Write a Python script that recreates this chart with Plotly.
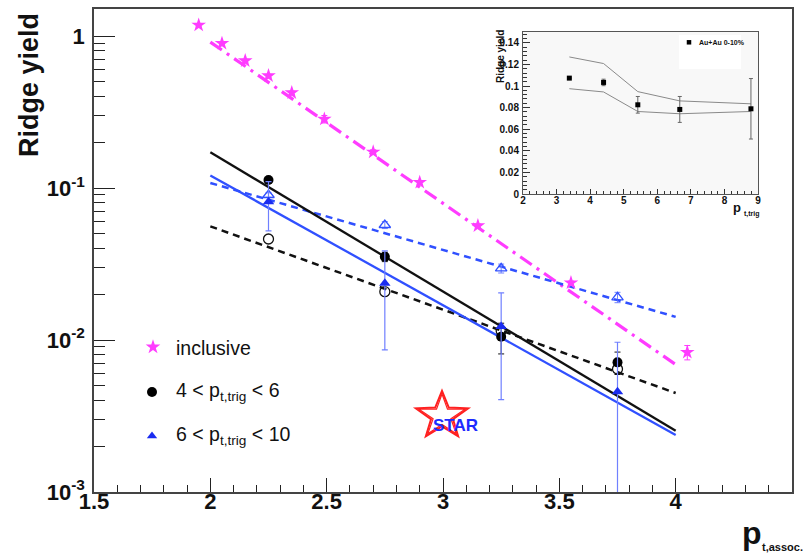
import numpy as np
import plotly.graph_objects as go

W, H = 806, 553

# ---------------- main panel data ----------------
incl_x = [1.95, 2.05, 2.15, 2.25, 2.35, 2.49, 2.70, 2.90, 3.15, 3.55, 4.05]
incl_y = [1.18, 0.895, 0.688, 0.548, 0.424, 0.284, 0.1725, 0.109, 0.0565, 0.0238, 0.0083]
incl_err = [0.03, 0.02, 0.015, 0.012, 0.01, 0.016, 0.006, 0.003, 0.0015, 0.0006, 0.0009]

pt_x = [2.25, 2.75, 3.25, 3.75]
low_filled = [0.113, 0.0353, 0.0105, 0.00713]
low_filled_err = [0.004, 0.0025, 0.0024, 0.0012]
low_open = [0.0462, 0.0208, 0.0115, 0.00645]
high_filled = [0.0813, 0.0236, 0.01225, 0.00457]
high_filled_err = [0.029, 0.015, 0.0082, 0.0051]
high_open = [0.090, 0.0571, 0.0296, 0.0191]
high_open_err = [0.003, 0.003, 0.002, 0.0015]

fit_x = [2.0, 4.0]
fit_incl = [0.913, 0.0069]
fit_low = [0.172, 0.00253]
fit_low_open = [0.056, 0.00448]
fit_high = [0.121, 0.00237]
fit_high_open = [0.108, 0.0142]

x_ticks = [1.5, 2.0, 2.5, 3.0, 3.5, 4.0, 4.5]
x_ticktext = ["1.5", "2", "2.5", "3", "3.5", "4", "4.5"]
y_ticks = [1e-3, 1e-2, 1e-1, 1]
y_ticktext = ["10<sup>-3</sup>", "10<sup>-2</sup>", "10<sup>-1</sup>", "1"]

# ---------------- inset data ----------------
ins_x = [3.38, 4.40, 5.42, 6.67, 8.79]
ins_y = [0.1073, 0.1033, 0.0826, 0.0783, 0.0789]
ins_err = [0.0, 0.003, 0.0077, 0.012, 0.028]
ins_upper = [0.1269, 0.1208, 0.0948, 0.0862, 0.0835]
ins_lower = [0.0975, 0.0945, 0.0764, 0.0743, 0.0764]
ins_xticks = [2, 3, 4, 5, 6, 7, 8, 9]
ins_yticks = [0, 0.02, 0.04, 0.06, 0.08, 0.1, 0.12, 0.14]
ins_yticktext = ["0", "0.02", "0.04", "0.06", "0.08", "0.1", "0.12", "0.14"]

MAG = "#ff3cff"
BLUE = "#3050ff"
BLUE_ERR = "#7080ff"
FONT = "Liberation Sans, Arial, Helvetica, sans-serif"

# frame geometry (pixels)
MX0, MX1, MY0, MY1 = 94, 792, 9, 492
IX0, IX1, IY0, IY1 = 523, 758, 32, 194


def P(x, y):
    return x / W, 1 - y / H


fig = go.Figure()

# ---- fit lines ----
fig.add_trace(go.Scatter(x=fit_x, y=fit_incl, mode="lines",
                         line=dict(color=MAG, width=3.2, dash="14px,6px,3px,6px")))
fig.add_trace(go.Scatter(x=fit_x, y=fit_high_open, mode="lines",
                         line=dict(color=BLUE, width=2.5, dash="7px,5px")))
fig.add_trace(go.Scatter(x=fit_x, y=fit_low_open, mode="lines",
                         line=dict(color="#111", width=2.5, dash="7px,5px")))
fig.add_trace(go.Scatter(x=fit_x, y=fit_low, mode="lines",
                         line=dict(color="#111", width=2.3)))
fig.add_trace(go.Scatter(x=fit_x, y=fit_high, mode="lines",
                         line=dict(color=BLUE, width=2.3)))

# ---- data points ----
fig.add_trace(go.Scatter(x=pt_x, y=low_open, mode="markers",
                         marker=dict(symbol="circle-open", size=10, color="#111", line=dict(width=1.3))))
fig.add_trace(go.Scatter(x=pt_x, y=high_open, mode="markers",
                         marker=dict(symbol="triangle-up-open", size=10, color=BLUE, line=dict(width=1.3)),
                         error_y=dict(type="data", array=high_open_err, color=BLUE_ERR, thickness=1, width=3)))
fig.add_trace(go.Scatter(x=pt_x, y=low_filled, mode="markers",
                         marker=dict(symbol="circle", size=10, color="#000"),
                         error_y=dict(type="data", array=low_filled_err, color="#111", thickness=1, width=3)))
fig.add_trace(go.Scatter(x=pt_x, y=high_filled, mode="markers",
                         marker=dict(symbol="triangle-up", size=10, color="#1a2cf0"),
                         error_y=dict(type="data", array=high_filled_err, color=BLUE_ERR, thickness=1.2, width=3)))
fig.add_trace(go.Scatter(x=incl_x, y=incl_y, mode="markers",
                         marker=dict(symbol="star", size=11, color=MAG),
                         error_y=dict(type="data", array=incl_err, color=MAG, thickness=1, width=3)))

# ---- inset traces ----
fig.add_trace(go.Scatter(x=ins_x, y=ins_upper, mode="lines", xaxis="x2", yaxis="y2",
                         line=dict(color="#8a8a8a", width=1)))
fig.add_trace(go.Scatter(x=ins_x, y=ins_lower, mode="lines", xaxis="x2", yaxis="y2",
                         line=dict(color="#8a8a8a", width=1)))
fig.add_trace(go.Scatter(x=ins_x, y=ins_y, mode="markers", xaxis="x2", yaxis="y2",
                         marker=dict(symbol="square", size=5, color="#000"),
                         error_y=dict(type="data", array=ins_err, color="#666", thickness=1, width=2)))

# ---- legend swatches (pixel overlay axes) ----
fig.add_trace(go.Scatter(x=[153], y=[347], mode="markers", xaxis="x3", yaxis="y3",
                         marker=dict(symbol="star", size=11, color=MAG)))
fig.add_trace(go.Scatter(x=[152], y=[392], mode="markers", xaxis="x3", yaxis="y3",
                         marker=dict(symbol="circle", size=10, color="#000")))
fig.add_trace(go.Scatter(x=[152], y=[436], mode="markers", xaxis="x3", yaxis="y3",
                         marker=dict(symbol="triangle-up", size=9, color="#1a2cf0")))
fig.add_trace(go.Scatter(x=[689], y=[42.3], mode="markers", xaxis="x3", yaxis="y3",
                         marker=dict(symbol="square", size=4.5, color="#000")))

tickfont = dict(family=FONT, size=22, color="#111", weight="bold")
insfont = dict(family=FONT, size=10, color="#111", weight="bold")

y_minor = [k * 10.0 ** e for e in range(-3, 1) for k in range(2, 10) if k * 10.0 ** e < 1.5]

fig.update_layout(
    width=W, height=H,
    margin=dict(l=0, r=0, t=0, b=0),
    paper_bgcolor="white", plot_bgcolor="rgba(0,0,0,0)",
    showlegend=False,
    xaxis=dict(domain=[MX0 / W, MX1 / W], range=[1.5, 4.5], anchor="y",
               tickmode="array", tickvals=x_ticks, ticktext=x_ticktext,
               ticks="inside", ticklen=14, tickwidth=1, tickcolor="#222",
               minor=dict(ticks="inside", ticklen=7, tickwidth=1, tickcolor="#222", dtick=0.1, tick0=1.5),
               showline=True, linecolor="#444", linewidth=1.5, mirror=True,
               showgrid=False, zeroline=False, tickfont=tickfont, ticklabelstandoff=-11,
               automargin=False),
    yaxis=dict(domain=[1 - MY1 / H, 1 - MY0 / H], type="log", range=[-3, 0.178], anchor="x",
               tickmode="array", tickvals=y_ticks, ticktext=y_ticktext,
               ticks="inside", ticklen=21, tickwidth=1, tickcolor="#222",
               minor=dict(ticks="inside", ticklen=11, tickwidth=1, tickcolor="#222", tickvals=y_minor),
               showline=True, linecolor="#444", linewidth=1.5, mirror=True,
               showgrid=False, zeroline=False, tickfont=tickfont, ticklabelstandoff=3,
               automargin=False),
    xaxis2=dict(domain=[IX0 / W, IX1 / W], range=[2, 9], anchor="y2",
                tickmode="array", tickvals=ins_xticks,
                ticks="inside", ticklen=5, tickwidth=1, tickcolor="#333",
                minor=dict(ticks="inside", ticklen=3, tickwidth=1, tickcolor="#333", dtick=0.2, tick0=2),
                showline=True, linecolor="#555", linewidth=1, mirror=True,
                showgrid=False, zeroline=False, tickfont=insfont, ticklabelstandoff=-3,
                automargin=False),
    yaxis2=dict(domain=[1 - IY1 / H, 1 - IY0 / H], range=[0, 0.15], anchor="x2",
                tickmode="array", tickvals=ins_yticks, ticktext=ins_yticktext,
                ticks="inside", ticklen=7, tickwidth=1, tickcolor="#333",
                minor=dict(ticks="inside", ticklen=4, tickwidth=1, tickcolor="#333", dtick=0.004, tick0=0),
                showline=True, linecolor="#555", linewidth=1, mirror=True,
                showgrid=False, zeroline=False, tickfont=insfont, ticklabelstandoff=1,
                automargin=False),
    xaxis3=dict(domain=[0, 1], range=[0, W], anchor="y3", visible=False, fixedrange=True),
    yaxis3=dict(domain=[0, 1], range=[H, 0], anchor="x3", visible=False, fixedrange=True),
)

# inset background and legend box
lx0 = (679 - IX0) / (IX1 - IX0)
lx1 = (741 - IX0) / (IX1 - IX0)
ly0 = (IY1 - 69) / (IY1 - IY0)
ly1 = (IY1 - 35) / (IY1 - IY0)
fig.add_shape(type="rect", xref="x2 domain", yref="y2 domain", x0=0, x1=1, y0=0, y1=1,
              fillcolor="#f8f8f8", line=dict(width=0), layer="below")
fig.add_shape(type="rect", xref="x2 domain", yref="y2 domain", x0=lx0, x1=lx1, y0=ly0, y1=ly1,
              fillcolor="white", line=dict(width=0), layer="below")

# STAR logo: outlined five-pointed star (double red outline)
cx, cy, sx = 442, 416, 1.1
for R, r, wdt in [(25, 10.5, 2.0), (22, 8.5, 1.2)]:
    ang = np.pi / 2 + np.arange(10) * np.pi / 5
    rad = np.where(np.arange(10) % 2 == 0, R, r)
    pts = [P(cx + sx * rr * np.cos(a), cy - rr * np.sin(a)) for rr, a in zip(rad, ang)]
    path = "M " + " L ".join(f"{px:.5f},{py:.5f}" for px, py in pts) + " Z"
    fig.add_shape(type="path", xref="paper", yref="paper", path=path,
                  line=dict(color="#ff2020", width=wdt), fillcolor="rgba(0,0,0,0)")


def ann(text, x, y, size, xanchor="center", yanchor="middle", angle=0, color="#111", bold=True):
    px, py = P(x, y)
    fig.add_annotation(text=text, x=px, y=py, xref="paper", yref="paper",
                       xanchor=xanchor, yanchor=yanchor, textangle=angle, showarrow=False,
                       font=dict(family=FONT, size=size, color=color,
                                 weight="bold" if bold else "normal"))


# main axis titles
ann("Ridge yield", 29, 85, 27, angle=-90)
ann("p", 752, 533, 32)
ann("t,assoc.", 760, 547, 11, xanchor="left")

# legend texts
ann("inclusive", 174, 348, 19.5, xanchor="left", bold=False)
ann("4 &lt; p<sub>t,trig</sub> &lt; 6", 174, 391, 19.5, xanchor="left", bold=False)
ann("6 &lt; p<sub>t,trig</sub> &lt; 10", 174, 435, 19.5, xanchor="left", bold=False)

# STAR text
ann("STAR", 455, 425, 17, color="#1e2cff")

# inset titles and legend
ann("Ridge yield", 500, 57, 10, angle=-90)
ann("p", 737, 207, 13)
ann("t,trig", 742, 214, 7, xanchor="left")
ann("Au+Au 0-10%", 697, 42.5, 7, xanchor="left")

fig.write_html("out.html")
